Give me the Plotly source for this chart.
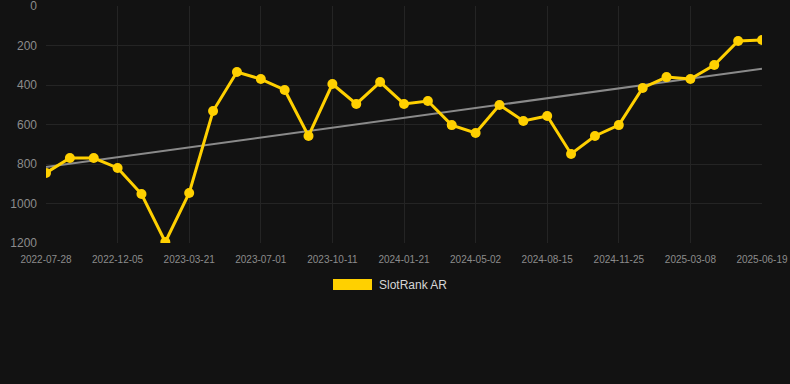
import numpy as np
import plotly.graph_objects as go

dates = [
    "2022-07-28", "2022-09-10", "2022-10-23", "2022-12-05", "2023-01-09", "2023-02-13",
    "2023-03-21", "2023-04-24", "2023-05-28", "2023-07-01", "2023-08-04", "2023-09-07",
    "2023-10-11", "2023-11-14", "2023-12-18", "2024-01-21", "2024-02-24", "2024-03-29",
    "2024-05-02", "2024-06-06", "2024-07-11", "2024-08-15", "2024-09-18", "2024-10-22",
    "2024-11-25", "2024-12-29", "2025-02-01", "2025-03-08", "2025-04-11", "2025-05-15",
    "2025-06-19",
]
rank = [
    845, 770, 770, 820, 952, 1195, 947, 532, 334, 370, 425, 658, 395, 496, 385, 496,
    481, 603, 643, 501, 582, 557, 749, 658, 603, 415, 360, 370, 299, 177, 172,
]
tick_dates = dates[::3]
y_ticks = [0, 200, 400, 600, 800, 1000, 1200]
series_name = "SlotRank AR"

idx = np.arange(len(rank))
slope, intercept = np.polyfit(idx, rank, 1)
trend = (slope * idx + intercept).tolist()

fig = go.Figure()
fig.add_trace(go.Scatter(
    x=dates, y=trend, mode="lines",
    line=dict(color="#8a8a8a", width=2),
    showlegend=False, hoverinfo="skip",
))
fig.add_trace(go.Scatter(
    x=dates, y=rank, mode="lines+markers", name=series_name,
    line=dict(color="#ffd000", width=3),
    marker=dict(color="#ffd000", size=10),
    showlegend=False,
))

W, H = 790, 384
ml, mr, mt, mb = 46, 28, 6, 141
pw, ph = W - ml - mr, H - mt - mb

def px(x):
    return (x - ml) / pw

def py(y):
    return (H - mb - y) / ph

fig.add_shape(type="rect", xref="paper", yref="paper",
              x0=px(333), x1=px(372), y0=py(290), y1=py(279),
              fillcolor="#ffd000", line=dict(width=0))
fig.add_annotation(xref="paper", yref="paper", x=px(377), y=py(284.5),
                   text=series_name, showarrow=False, xanchor="left", yanchor="middle",
                   font=dict(family="Liberation Sans, Arial, sans-serif", size=12, color="#d6d6d6"))

fig.update_layout(
    width=W, height=H,
    margin=dict(l=ml, r=mr, t=mt, b=mb, autoexpand=False),
    paper_bgcolor="#121212", plot_bgcolor="#121212",
    font=dict(family="Liberation Sans, Arial, sans-serif", color="#8c8c8c"),
    showlegend=False,
    xaxis=dict(
        type="category", range=[0, len(dates) - 1], automargin=False,
        tickmode="array", tickvals=tick_dates, ticktext=tick_dates,
        showgrid=True, gridcolor="#242424", gridwidth=1,
        zeroline=False, showline=False, ticks="", ticklabelstandoff=9,
        ticklabeloverflow="allow",
        tickfont=dict(size=10, color="#8c8c8c"),
    ),
    yaxis=dict(
        range=[1200, 0], tickmode="array", tickvals=y_ticks, automargin=False,
        showgrid=True, gridcolor="#242424", gridwidth=1,
        zeroline=False, showline=False, ticks="", ticklabelstandoff=8,
        ticklabeloverflow="allow",
        tickfont=dict(size=12, color="#8c8c8c"),
    ),
)

fig.write_html("out.html")
